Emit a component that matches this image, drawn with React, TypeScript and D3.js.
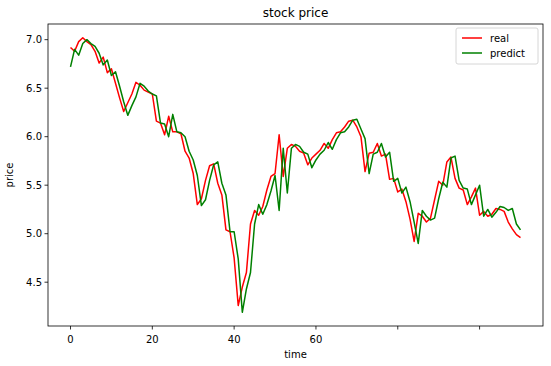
import React, { useEffect, useRef } from 'react';
import * as d3 from 'd3';

const real = [
    6.92, 6.88, 6.98, 7.02, 6.98, 6.95, 6.88, 6.76, 6.82, 6.66,
    6.70, 6.55, 6.40, 6.26, 6.35, 6.44, 6.56, 6.53, 6.48, 6.46,
    6.44, 6.16, 6.14, 6.02, 6.21, 6.05, 6.05, 6.03, 5.85, 5.78,
    5.62, 5.30, 5.36, 5.55, 5.70, 5.72, 5.52, 5.40, 5.04, 5.02,
    4.75, 4.26, 4.45, 4.60, 5.10, 5.24, 5.19, 5.28, 5.45, 5.59,
    5.62, 6.02, 5.59, 5.88, 5.92, 5.90, 5.85, 5.83, 5.71, 5.78,
    5.82, 5.86, 5.93, 5.88, 5.97, 6.04, 6.05, 6.10, 6.16, 6.17,
    6.10, 6.00, 5.64, 5.83, 5.84, 5.93, 5.80, 5.82, 5.56, 5.57,
    5.43, 5.46, 5.33, 5.15, 4.92, 5.21, 5.18, 5.12, 5.16, 5.35,
    5.54, 5.50, 5.74, 5.79, 5.57, 5.47, 5.45, 5.30, 5.38, 5.47,
    5.19, 5.23, 5.18, 5.20, 5.26, 5.25, 5.23, 5.12, 5.05, 4.99,
    4.96,
];

const predict = [
    6.72, 6.90, 6.84, 6.96, 7.00, 6.96, 6.93, 6.86, 6.74, 6.79,
    6.63, 6.67, 6.52, 6.36, 6.22, 6.32, 6.41, 6.55, 6.52, 6.47,
    6.44, 6.42, 6.14, 6.13, 6.00, 6.23, 6.05, 6.04, 6.00, 5.85,
    5.76, 5.60, 5.29, 5.35, 5.55, 5.71, 5.74, 5.52, 5.40, 5.02,
    5.02, 4.74, 4.19, 4.43, 4.60, 5.10, 5.30, 5.20, 5.30, 5.44,
    5.60, 5.24, 5.88, 5.42, 5.88, 5.92, 5.90, 5.84, 5.82, 5.68,
    5.76, 5.82, 5.86, 5.94, 5.87, 5.97, 6.04, 6.05, 6.10, 6.17,
    6.18, 6.08, 5.98, 5.62, 5.82, 5.84, 5.93, 5.79, 5.84, 5.54,
    5.57, 5.42, 5.48, 5.33, 5.12, 4.90, 5.24, 5.18, 5.14, 5.16,
    5.36, 5.53, 5.48, 5.78, 5.80, 5.55, 5.47, 5.46, 5.30, 5.40,
    5.50, 5.18, 5.25, 5.17, 5.22, 5.28, 5.27, 5.24, 5.26, 5.10,
    5.04,
];

const xTicks = [0, 20, 40, 60, 80, 100];
// labels under 80 and 100 are hidden by a white box in the source picture
const xTickLabels = ['0', '20', '40', '60', '', ''];
const yTicks = [4.5, 5.0, 5.5, 6.0, 6.5, 7.0];

const series = [
    { name: 'real', values: real, color: '#ff0000' },
    { name: 'predict', values: predict, color: '#008000' },
];

const App: React.FC = () => {
    const svgRef = useRef<SVGSVGElement>(null);

    useEffect(() => {
        if (!svgRef.current) return;
        document.body.style.margin = '0';

        const width = 551;
        const height = 366;
        const margin = { top: 24, right: 8, bottom: 40, left: 48 };
        const font = 'DejaVu Sans, sans-serif';

        d3.select(svgRef.current).selectAll('*').remove();

        const svg = d3.select(svgRef.current)
            .attr('width', width)
            .attr('height', height)
            .style('display', 'block')
            .style('background', '#fff');

        const innerW = width - margin.left - margin.right;
        const innerH = height - margin.top - margin.bottom;

        const n = real.length - 1;
        const x = d3.scaleLinear()
            .domain([-n * 0.05, n * 1.05])
            .range([0, innerW]);

        const allVals = real.concat(predict);
        const lo = d3.min(allVals) as number;
        const hi = d3.max(allVals) as number;
        const pad = (hi - lo) * 0.05;
        const y = d3.scaleLinear()
            .domain([lo - pad, hi + pad])
            .range([innerH, 0]);

        const g = svg.append('g')
            .attr('transform', `translate(${margin.left},${margin.top})`);

        const line = d3.line<number>()
            .x((_, i) => x(i))
            .y(d => y(d));

        series.forEach(s => {
            g.append('path')
                .datum(s.values)
                .attr('d', line)
                .attr('fill', 'none')
                .attr('stroke', s.color)
                .attr('stroke-width', 1.5)
                .attr('stroke-linejoin', 'round');
        });

        // frame
        g.append('rect')
            .attr('width', innerW)
            .attr('height', innerH)
            .attr('fill', 'none')
            .attr('stroke', '#000')
            .attr('stroke-width', 0.8);

        // x axis
        const xg = g.append('g').attr('transform', `translate(0,${innerH})`);
        xTicks.forEach((t, i) => {
            xg.append('line')
                .attr('x1', x(t)).attr('x2', x(t))
                .attr('y1', 0).attr('y2', 3.5)
                .attr('stroke', '#000').attr('stroke-width', 0.8);
            xg.append('text')
                .attr('x', x(t))
                .attr('y', 17)
                .attr('text-anchor', 'middle')
                .style('font-family', font)
                .style('font-size', '10px')
                .text(xTickLabels[i]);
        });

        // y axis
        const yg = g.append('g');
        yTicks.forEach(t => {
            yg.append('line')
                .attr('x1', -3.5).attr('x2', 0)
                .attr('y1', y(t)).attr('y2', y(t))
                .attr('stroke', '#000').attr('stroke-width', 0.8);
            yg.append('text')
                .attr('x', -6)
                .attr('y', y(t))
                .attr('dy', '0.35em')
                .attr('text-anchor', 'end')
                .style('font-family', font)
                .style('font-size', '10px')
                .text(t.toFixed(1));
        });

        // labels and title
        g.append('text')
            .attr('x', innerW / 2)
            .attr('y', innerH + 32)
            .attr('text-anchor', 'middle')
            .style('font-family', font)
            .style('font-size', '10px')
            .text('time');

        g.append('text')
            .attr('transform', `translate(${-35},${innerH / 2}) rotate(-90)`)
            .attr('text-anchor', 'middle')
            .style('font-family', font)
            .style('font-size', '10px')
            .text('price');

        g.append('text')
            .attr('x', innerW / 2)
            .attr('y', -7)
            .attr('text-anchor', 'middle')
            .style('font-family', font)
            .style('font-size', '12px')
            .text('stock price');

        // legend
        const legend = g.append('g')
            .attr('transform', `translate(${innerW - 87},4)`);
        legend.append('rect')
            .attr('width', 82)
            .attr('height', 36)
            .attr('rx', 2)
            .attr('fill', '#fff')
            .attr('fill-opacity', 0.8)
            .attr('stroke', '#ccc')
            .attr('stroke-width', 0.8);
        series.forEach((s, i) => {
            const ly = 10 + i * 15;
            legend.append('line')
                .attr('x1', 6).attr('x2', 26)
                .attr('y1', ly).attr('y2', ly)
                .attr('stroke', s.color)
                .attr('stroke-width', 1.5);
            legend.append('text')
                .attr('x', 34)
                .attr('y', ly)
                .attr('dy', '0.35em')
                .style('font-family', font)
                .style('font-size', '10px')
                .text(s.name);
        });
    }, []);

    return <svg ref={svgRef}></svg>;
};

export default App;
